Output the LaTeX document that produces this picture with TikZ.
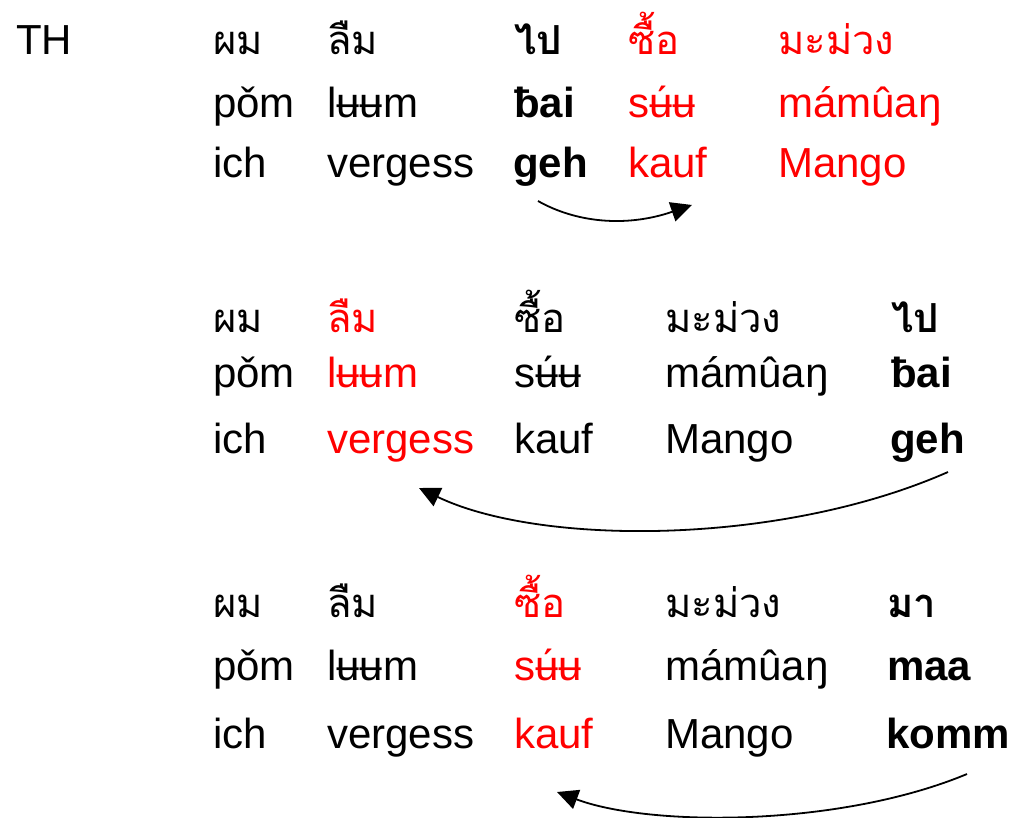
\documentclass[tikz,border=0pt]{standalone}
\usepackage{fontspec}
\setmainfont{Liberation Sans}
\newfontfamily\thaifont[Script=Thai]{Loma}
\usetikzlibrary{arrows.meta}
\definecolor{hl}{RGB}{255,0,0}
\begin{document}
\begin{tikzpicture}[x=1pt,y=-1pt,
  word/.style={anchor=base west,inner sep=0pt,font=\fontsize{42}{48}\selectfont},
  th/.style={word,font=\fontsize{40}{48}\selectfont\thaifont},
  hot/.style={text=hl},
  strong/.style={font=\fontsize{42}{48}\selectfont\bfseries},
  thstrong/.style={font=\fontsize{40}{48}\selectfont\thaifont\bfseries},
  move/.style={line width=1.8pt,-{Triangle[length=21pt,width=20pt]}}]
\useasboundingbox (0,0) rectangle (1014,817);

% language label
\node[word] (lang) at (16,54) {TH};

% ---- first sentence: ผม ลืม ไป ซื้อ มะม่วง
\node[th]  (a1) at (213,54) {ผม};
\node[th]  (a2) at (327,54) {ลืม};
\node[th,thstrong] (a3) at (514,54) {ไป};
\node[th,hot] (a4) at (628,54) {ซื้อ};
\node[th,hot] (a5) at (778,54) {มะม่วง};
\node[word] (b1) at (213,117) {pǒm};
\node[word] (b2) at (327,117) {lʉʉm};
\node[word,strong] (b3) at (514,117) {ƀai};
\node[word,hot] (b4) at (628,117) {sʉ́ʉ};
\node[word,hot] (b5) at (778,117) {mámûaŋ};
\node[word] (c1) at (213,177) {ich};
\node[word] (c2) at (327,177) {vergess};
\node[word,strong] (c3) at (513,177) {geh};
\node[word,hot] (c4) at (628,177) {kauf};
\node[word,hot] (c5) at (778,177) {Mango};

% ---- second sentence: ผม ลืม ซื้อ มะม่วง ไป
\node[th]  (d1) at (213,332) {ผม};
\node[th,hot] (d2) at (327,332) {ลืม};
\node[th]  (d3) at (514,332) {ซื้อ};
\node[th]  (d4) at (665,332) {มะม่วง};
\node[th,thstrong] (d5) at (891,332) {ไป};
\node[word] (e1) at (213,387) {pǒm};
\node[word,hot] (e2) at (327,387) {lʉʉm};
\node[word] (e3) at (514,387) {sʉ́ʉ};
\node[word] (e4) at (665,387) {mámûaŋ};
\node[word,strong] (e5) at (891,387) {ƀai};
\node[word] (f1) at (213,453) {ich};
\node[word,hot] (f2) at (327,453) {vergess};
\node[word] (f3) at (514,453) {kauf};
\node[word] (f4) at (665,453) {Mango};
\node[word,strong] (f5) at (890,453) {geh};

% ---- third sentence: ผม ลืม ซื้อ มะม่วง มา
\node[th]  (g1) at (213,617) {ผม};
\node[th]  (g2) at (327,617) {ลืม};
\node[th,hot] (g3) at (514,617) {ซื้อ};
\node[th]  (g4) at (665,617) {มะม่วง};
\node[th,thstrong] (g5) at (887,617) {มา};
\node[word] (h1) at (213,680) {pǒm};
\node[word] (h2) at (327,680) {lʉʉm};
\node[word,hot] (h3) at (514,680) {sʉ́ʉ};
\node[word] (h4) at (665,680) {mámûaŋ};
\node[word,strong] (h5) at (887,680) {maa};
\node[word] (i1) at (213,748) {ich};
\node[word] (i2) at (327,748) {vergess};
\node[word,hot] (i3) at (514,748) {kauf};
\node[word] (i4) at (665,748) {Mango};
\node[word,strong] (i5) at (886,748) {komm};

% movement arrows
\coordinate (m1s) at (538,201);
\coordinate (m1e) at (692,205);
\coordinate (m2s) at (948,472);
\coordinate (m2e) at (419,488);
\coordinate (m3s) at (967,774);
\coordinate (m3e) at (557,792);
\draw[move] (m1s) .. controls (575,222) and (625,228) .. (m1e);
\draw[move] (m2s) .. controls (780,546) and (540,546) .. (m2e);
\draw[move] (m3s) .. controls (840,827) and (650,827) .. (m3e);
\end{tikzpicture}
\end{document}
